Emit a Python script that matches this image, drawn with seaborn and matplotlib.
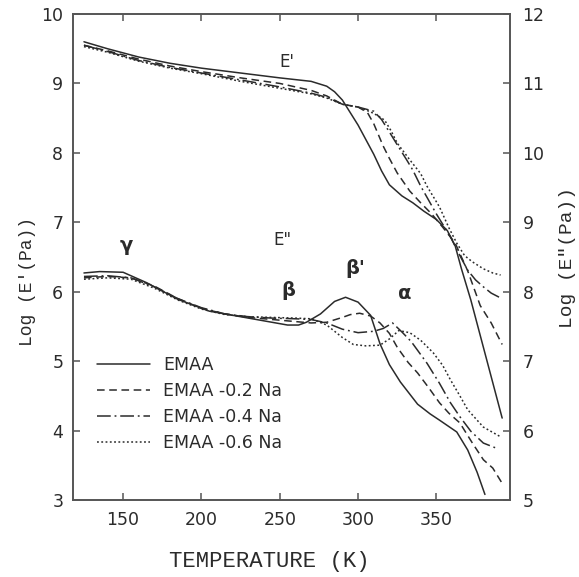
import matplotlib
matplotlib.use("Agg")
import matplotlib.pyplot as plt
import seaborn as sns
import pandas as pd

# ---------------- data ----------------
# Storage modulus E' (left axis, log Pa)
t_ep_emaa = [125,140,160,180,200,225,250,270,280,285,290,295,300,305,310,315,320,328,335,342,350,357,362,366,372,380,392]
ep_emaa   = [9.60,9.50,9.38,9.29,9.22,9.15,9.08,9.03,8.96,8.88,8.76,8.58,8.40,8.19,7.98,7.74,7.54,7.38,7.28,7.16,7.04,6.88,6.66,6.33,5.88,5.20,4.18]
t_ep_02 = [125,140,160,180,200,225,250,270,280,290,300,306,310,316,320,325,333,340,347,354,362,370,378,385,392]
ep_02   = [9.55,9.47,9.35,9.25,9.17,9.08,9.00,8.90,8.82,8.70,8.66,8.58,8.42,8.10,7.92,7.71,7.45,7.28,7.12,6.93,6.70,6.30,5.80,5.55,5.24]
t_ep_04 = [125,140,160,180,200,225,250,270,280,290,300,310,315,320,326,331,335,340,350,359,365,370,375,380,385,391]
ep_04   = [9.55,9.46,9.33,9.23,9.15,9.05,8.95,8.86,8.80,8.70,8.66,8.60,8.48,8.30,8.08,7.90,7.75,7.52,7.12,6.79,6.52,6.31,6.17,6.07,5.98,5.91]
t_ep_06 = [125,140,160,180,200,225,250,270,280,290,300,308,313,317,321,325,333,340,344,352,358,363,368,373,380,386,391]
ep_06   = [9.53,9.45,9.32,9.22,9.14,9.03,8.93,8.85,8.79,8.70,8.66,8.59,8.53,8.47,8.32,8.14,7.90,7.70,7.52,7.22,6.92,6.70,6.52,6.43,6.33,6.27,6.24]

# Loss modulus E'' (right axis, log Pa)
t_epp_emaa = [125,135,150,165,185,205,230,255,262,267,276,285,292,300,308,314,320,327,338,346,352,363,370,376,381]
epp_emaa   = [8.27,8.29,8.28,8.13,7.89,7.72,7.62,7.52,7.52,7.56,7.68,7.86,7.92,7.85,7.66,7.25,6.95,6.70,6.38,6.24,6.15,5.98,5.72,5.40,5.08]
t_epp_02 = [125,140,155,170,185,200,215,230,245,260,270,280,290,295,301,308,314,320,325,332,338,345,352,358,365,373,380,386,392]
epp_02   = [8.20,8.22,8.20,8.08,7.90,7.76,7.68,7.63,7.60,7.57,7.55,7.56,7.63,7.67,7.69,7.65,7.55,7.40,7.20,6.98,6.83,6.62,6.40,6.25,6.11,5.82,5.58,5.46,5.24]
t_epp_04 = [125,140,155,170,185,200,215,230,245,260,270,280,290,300,310,316,322,328,334,344,352,359,365,372,380,389]
epp_04   = [8.22,8.23,8.20,8.07,7.90,7.77,7.68,7.64,7.62,7.61,7.60,7.55,7.46,7.41,7.43,7.47,7.55,7.42,7.28,6.97,6.68,6.40,6.20,5.99,5.82,5.74]
t_epp_06 = [125,140,155,170,185,200,215,230,245,260,270,280,290,297,305,314,320,326,333,340,348,354,359,365,370,380,391]
epp_06   = [8.18,8.20,8.18,8.05,7.88,7.75,7.67,7.64,7.63,7.62,7.61,7.52,7.34,7.24,7.22,7.23,7.32,7.44,7.41,7.30,7.12,6.94,6.73,6.50,6.30,6.05,5.91]

labels = ["EMAA", "EMAA -0.2 Na", "EMAA -0.4 Na", "EMAA -0.6 Na"]
x_ticks = [150, 200, 250, 300, 350]
yl_ticks = [3, 4, 5, 6, 7, 8, 9, 10]
yr_ticks = [5, 6, 7, 8, 9, 10, 11, 12]

# ---------------- styling ----------------
sns.set_theme(style="white")
plt.rcParams["font.family"] = ["DejaVu Sans"]
ink = "#2b2b2b"
styles = ["-", (0, (5, 3)), (0, (9, 2.5, 1.2, 2.5)), (0, (1.2, 1.6))]

fig = plt.figure(figsize=(5.79, 5.77), dpi=100)
ax = fig.add_axes([73/579, 77/577, (510-73)/579, (500-14)/577])
ax2 = ax.twinx()

ep_sets = [(t_ep_emaa, ep_emaa), (t_ep_02, ep_02), (t_ep_04, ep_04), (t_ep_06, ep_06)]
epp_sets = [(t_epp_emaa, epp_emaa), (t_epp_02, epp_02), (t_epp_04, epp_04), (t_epp_06, epp_06)]

for (t, v), ls, lab in zip(ep_sets, styles, labels):
    df = pd.DataFrame({"T": t, "v": v})
    sns.lineplot(data=df, x="T", y="v", ax=ax, color=ink, lw=1.1, linestyle=ls,
                 label=lab, sort=True)
for (t, v), ls in zip(epp_sets, styles):
    df = pd.DataFrame({"T": t, "v": v})
    sns.lineplot(data=df, x="T", y="v", ax=ax2, color=ink, lw=1.1, linestyle=ls,
                 sort=True, legend=False)

ax.set_xlim(118, 397)
ax.set_ylim(3, 10)
ax2.set_ylim(5, 12)
ax.set_xticks(x_ticks)
ax.set_yticks(yl_ticks)
ax2.set_yticks(yr_ticks)

for a in (ax, ax2):
    for s in a.spines.values():
        s.set_color("#555555")
        s.set_linewidth(1.2)
ax.tick_params(axis="x", direction="in", length=5, width=1.1, color="#555555",
               top=True, bottom=True, labelsize=12.5, labelcolor=ink, pad=8)
ax.tick_params(axis="y", direction="in", length=5, width=1.1, color="#555555",
               left=True, right=False, labelsize=12.5, labelcolor=ink, pad=7)
ax2.tick_params(axis="y", direction="in", length=5, width=1.1, color="#555555",
                right=True, left=False, labelsize=12.5, labelcolor=ink, pad=9)

ax.set_xlabel("TEMPERATURE (K)", family="Liberation Mono", fontsize=16, color=ink)
ax.xaxis.set_label_coords(0.45, -0.105)
ax.set_ylabel("Log (E'(Pa))", family="Liberation Mono", fontsize=13, color=ink)
ax.yaxis.set_label_coords(-0.085, 0.45)
ax2.set_ylabel('Log (E"(Pa))', family="Liberation Mono", fontsize=14, color=ink,
               rotation=90)
ax2.yaxis.set_label_coords(1.112, 0.50)

# annotations
ax.text(254.7, 9.31, "E'", fontsize=12, color=ink, ha="center", va="center")
ax.text(252, 6.74, 'E"', fontsize=12, color=ink, ha="center", va="center")
ax.text(151.8, 6.66, "γ", fontsize=14, fontweight="bold", color=ink, ha="center", va="center")
ax.text(255.3, 6.02, "β", fontsize=14, fontweight="bold", color=ink, ha="center", va="center")
ax.text(298, 6.34, "β'", fontsize=14, fontweight="bold", color=ink, ha="center", va="center")
ax.text(330, 5.97, "α", fontsize=14, fontweight="bold", color=ink, ha="center", va="center")

leg = ax.legend(loc="upper left", bbox_to_anchor=(0.04, 0.31), frameon=False,
                fontsize=12.5, handlelength=3.0, handletextpad=0.8, labelspacing=0.45,
                borderaxespad=0)
for txt in leg.get_texts():
    txt.set_color(ink)

fig.savefig("out.png", dpi=100)
